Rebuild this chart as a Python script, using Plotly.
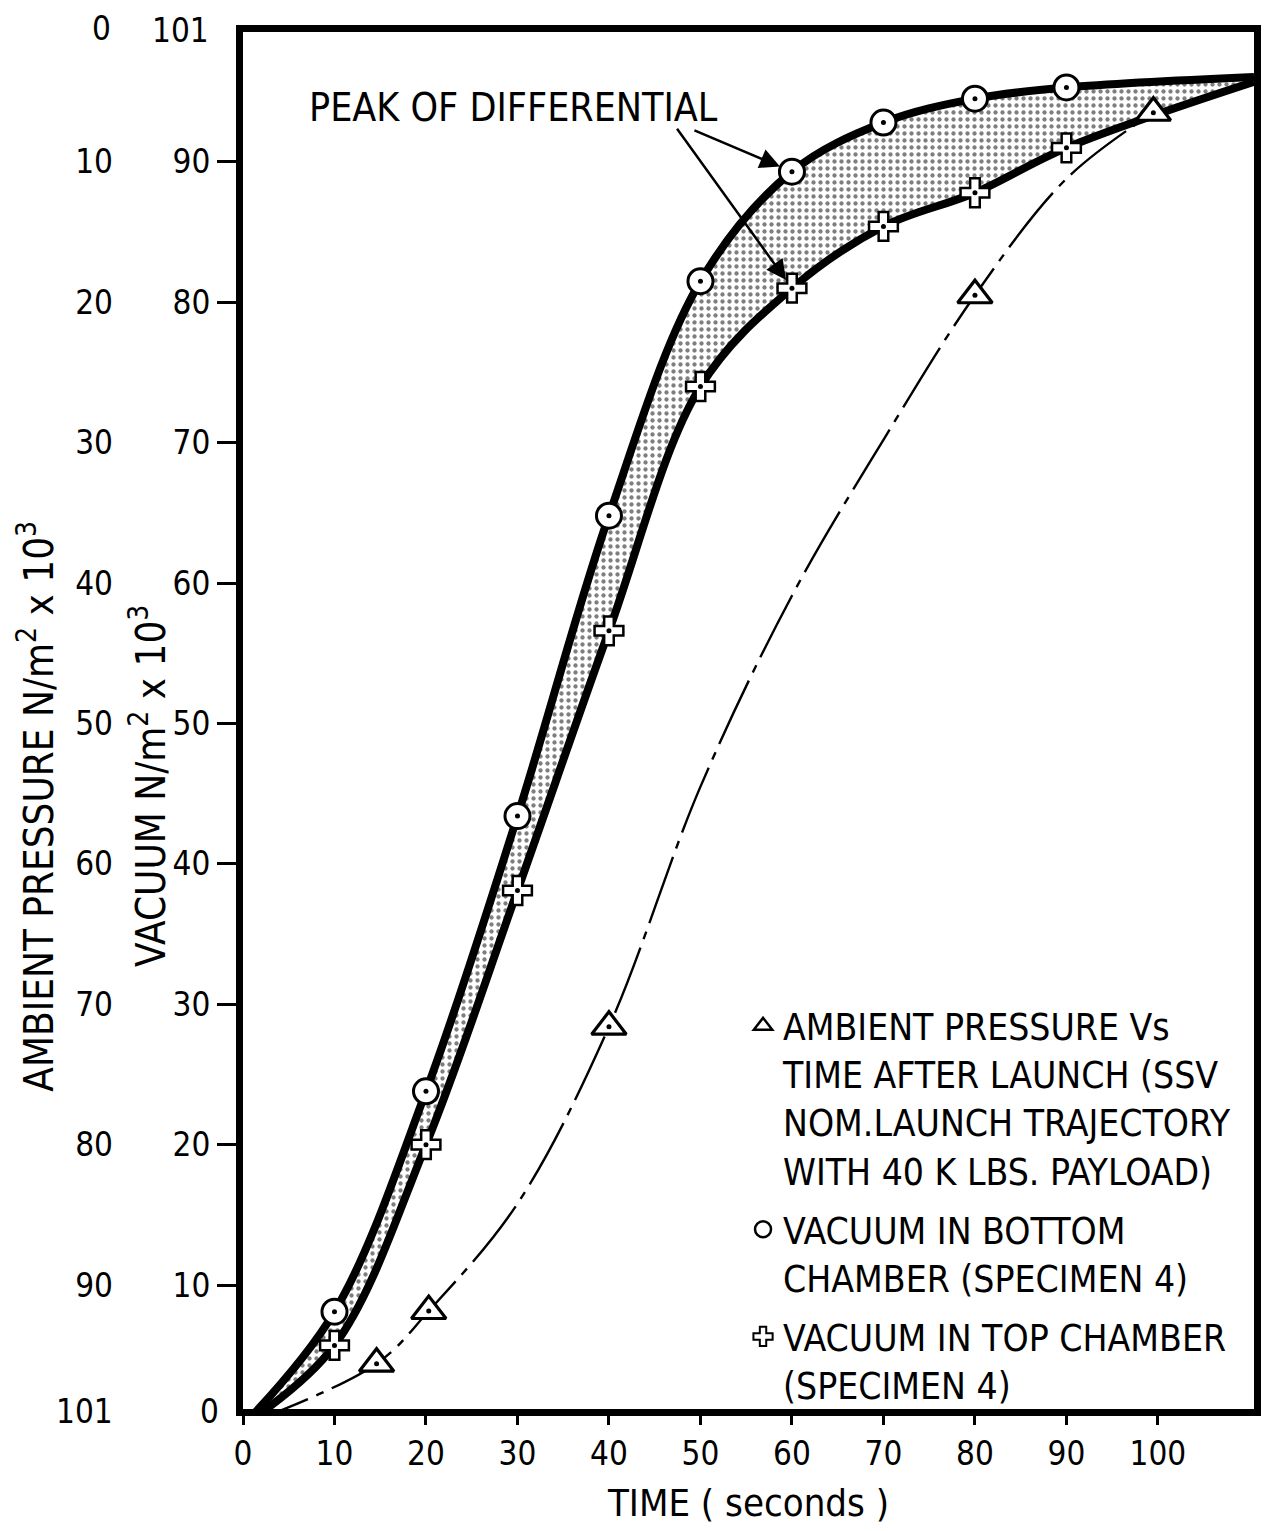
import plotly.graph_objects as go

# ---------------- data ----------------
times = [10, 20, 30, 40, 50, 60, 70, 80, 90]
bottom_chamber_vac = [8.1, 23.8, 43.4, 64.8, 81.5, 89.3, 92.8, 94.5, 95.3]   # circles
top_chamber_vac = [5.7, 20.0, 38.1, 56.6, 74.0, 81.0, 85.4, 87.8, 91.0]      # pluses

ambient_t = [14.6, 20.3, 40, 80, 99.5]                                        # triangles
ambient_v = [4.4, 8.15, 28.4, 80.5, 93.5]

ambient_curve_t = [0, 14.6, 20.3, 30, 40, 50, 60, 70, 80, 90, 99.5]
ambient_curve_v = [0, 4.4, 8.15, 15.8, 28.4, 45.5, 59.1, 70.2, 80.5, 88.8, 93.5]

curve_start_t, curve_start_v = 0, 0
curve_end_t = 110.5
bottom_end_v = 96.05
top_end_v = 95.7

x_ticks = [0, 10, 20, 30, 40, 50, 60, 70, 80, 90, 100]
vac_ticks = [10, 20, 30, 40, 50, 60, 70, 80, 90]
amb_ticks = [10, 20, 30, 40, 50, 60, 70, 80, 90]

FONT = "Liberation Sans Narrow, DejaVu Sans Condensed, Roboto Condensed, Arial Narrow, sans-serif"

bottom_line_t = [curve_start_t] + times + [curve_end_t]
bottom_line_v = [curve_start_v] + bottom_chamber_vac + [bottom_end_v]
top_line_t = [curve_start_t] + times + [curve_end_t]
top_line_v = [curve_start_v] + top_chamber_vac + [top_end_v]

fig = go.Figure()

# lower thick curve (top chamber)
fig.add_trace(go.Scatter(x=top_line_t, y=top_line_v, mode="lines",
                         line=dict(color="black", width=8, shape="spline"),
                         showlegend=False, hoverinfo="skip"))
# upper thick curve (bottom chamber) with dotted fill between
fig.add_trace(go.Scatter(x=bottom_line_t, y=bottom_line_v, mode="lines",
                         line=dict(color="black", width=8, shape="spline"),
                         fill="tonexty", fillcolor="white",
                         fillpattern=dict(shape=".", fgcolor="black", bgcolor="white",
                                          size=7, solidity=0.3),
                         showlegend=False, hoverinfo="skip"))
# ambient thin dash-dot curve
fig.add_trace(go.Scatter(x=ambient_curve_t, y=ambient_curve_v, mode="lines",
                         line=dict(color="black", width=2.4, shape="spline",
                                   dash="70px,9px,8px,9px"),
                         showlegend=False, hoverinfo="skip"))

# markers
fig.add_trace(go.Scatter(x=ambient_t, y=ambient_v, mode="markers",
                         marker=dict(symbol="triangle-up", size=30, color="white",
                                     line=dict(color="black", width=3.2)),
                         showlegend=False))
fig.add_trace(go.Scatter(x=times, y=bottom_chamber_vac, mode="markers",
                         marker=dict(symbol="circle", size=25, color="white",
                                     line=dict(color="black", width=3)),
                         showlegend=False))
fig.add_trace(go.Scatter(x=times, y=top_chamber_vac, mode="markers",
                         marker=dict(symbol="cross", size=24, color="white",
                                     line=dict(color="black", width=2.5)),
                         showlegend=False))
# centre dots
for tx, vy in [(ambient_t, ambient_v), (times, bottom_chamber_vac), (times, top_chamber_vac)]:
    fig.add_trace(go.Scatter(x=tx, y=vy, mode="markers",
                             marker=dict(symbol="circle", size=5, color="black"),
                             showlegend=False, hoverinfo="skip"))

# legend-only entries
fig.add_trace(go.Scatter(x=[None], y=[None], mode="markers", legendgroup="a",
                         name="AMBIENT PRESSURE Vs<br>TIME AFTER LAUNCH (SSV<br>NOM.LAUNCH TRAJECTORY<br>WITH 40 K LBS. PAYLOAD)",
                         marker=dict(symbol="triangle-up-open", size=16, color="black",
                                     line=dict(width=2.5))))
fig.add_trace(go.Scatter(x=[None], y=[None], mode="markers", legendgroup="b",
                         name="VACUUM IN BOTTOM<br>CHAMBER (SPECIMEN 4)",
                         marker=dict(symbol="circle-open", size=16, color="black",
                                     line=dict(width=2.5))))
fig.add_trace(go.Scatter(x=[None], y=[None], mode="markers", legendgroup="c",
                         name="VACUUM IN TOP CHAMBER<br>(SPECIMEN 4)",
                         marker=dict(symbol="cross", size=16, color="white",
                                     line=dict(color="black", width=2))))

# dummy trace so the ambient axis renders
fig.add_trace(go.Scatter(x=[None], y=[None], yaxis="y2", showlegend=False, hoverinfo="skip"))

TICK_SIZE = 33
annotations = [
    dict(text="PEAK OF DIFFERENTIAL", xref="x", yref="y", x=7.0, y=93.9,
         xanchor="left", yanchor="middle", showarrow=False,
         font=dict(family=FONT, size=39, color="black")),
    dict(text="", xref="x", yref="y", x=times[5], y=bottom_chamber_vac[5],
         ax=-99, ay=-42, showarrow=True, arrowhead=2, arrowsize=1.6,
         arrowwidth=2.5, arrowcolor="black", standoff=13),
    dict(text="", xref="x", yref="y", x=times[5], y=top_chamber_vac[5],
         ax=-116, ay=-161, showarrow=True, arrowhead=2, arrowsize=1.6,
         arrowwidth=2.5, arrowcolor="black", standoff=10),
    # end labels of the two pressure scales
    dict(text="101", xref="paper", yref="paper", x=0, y=1, xshift=-32, yshift=2,
         xanchor="right", yanchor="middle", showarrow=False,
         font=dict(family=FONT, size=TICK_SIZE, color="black")),
    dict(text="0", xref="paper", yref="paper", x=0, y=0, xshift=-22, yshift=-2,
         xanchor="right", yanchor="middle", showarrow=False,
         font=dict(family=FONT, size=TICK_SIZE, color="black")),
    dict(text="0", xref="paper", yref="paper", x=0, y=1, xshift=-130, yshift=4,
         xanchor="right", yanchor="middle", showarrow=False,
         font=dict(family=FONT, size=TICK_SIZE, color="black")),
    dict(text="101", xref="paper", yref="paper", x=0, y=0, xshift=-128, yshift=-2,
         xanchor="right", yanchor="middle", showarrow=False,
         font=dict(family=FONT, size=TICK_SIZE, color="black")),
    # axis titles
    dict(text="AMBIENT PRESSURE N/m<sup>2</sup> x 10<sup>3</sup>", xref="paper", yref="paper",
         x=(35 - 243) / 1017, y=(1410 - 807) / 1378, textangle=-90, showarrow=False,
         xanchor="center", yanchor="middle",
         font=dict(family=FONT, size=40, color="black")),
    dict(text="VACUUM N/m<sup>2</sup> x 10<sup>3</sup>", xref="paper", yref="paper",
         x=(148 - 243) / 1017, y=(1410 - 787) / 1378, textangle=-90, showarrow=False,
         xanchor="center", yanchor="middle",
         font=dict(family=FONT, size=40, color="black")),
]

fig.update_layout(
    width=1265, height=1523,
    margin=dict(l=235, r=13, t=24, b=121),
    paper_bgcolor="white", plot_bgcolor="white",
    font=dict(family=FONT, size=TICK_SIZE, color="black"),
    xaxis=dict(range=[0, 110.5], tickvals=x_ticks, ticks="outside", ticklen=9,
               tickwidth=2.5, tickcolor="black", showline=True, linewidth=7,
               linecolor="black", mirror=True, showgrid=False, zeroline=False,
               tickfont=dict(family=FONT, size=TICK_SIZE),
               title=dict(text="TIME ( seconds )", font=dict(family=FONT, size=38), standoff=20)),
    yaxis=dict(range=[1.17, 99.25], tickvals=vac_ticks, ticks="outside", ticklen=19,
               tickwidth=2.5, tickcolor="black", showline=True, linewidth=7,
               linecolor="black", mirror=True, showgrid=False, zeroline=False,
               tickfont=dict(family=FONT, size=TICK_SIZE)),
    yaxis2=dict(overlaying="y", anchor="free", position=0, autoshift=False, shift=-130,
                side="left", range=[100 - 1.17, 100 - 99.25], tickvals=amb_ticks,
                ticks="", showline=False, showgrid=False, zeroline=False,
                tickfont=dict(family=FONT, size=TICK_SIZE)),
    legend=dict(x=(746 - 243) / 1017, y=(1410 - 996) / 1378, xanchor="left", yanchor="top",
                bgcolor="rgba(0,0,0,0)", valign="top", tracegroupgap=8,
                font=dict(family=FONT, size=37, color="black")),
    annotations=annotations,
    showlegend=True,
)

fig.write_html("out.html")
